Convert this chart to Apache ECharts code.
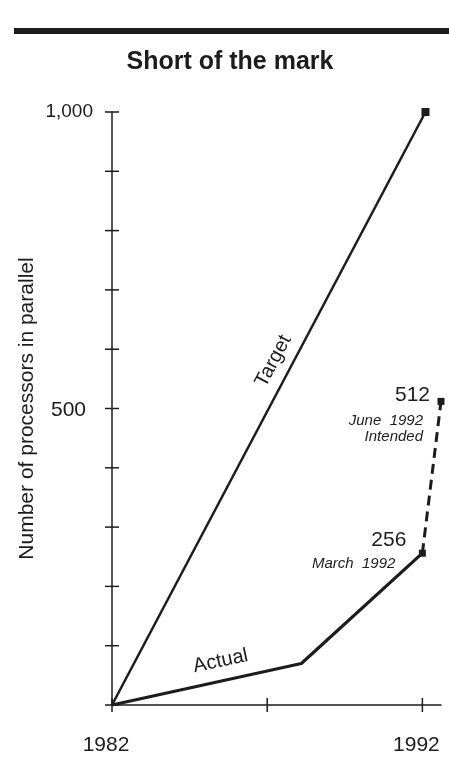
<!DOCTYPE html>
<html><head><meta charset="utf-8">
<script src="https://cdn.jsdelivr.net/npm/echarts@6/dist/echarts.min.js"></script>
<style>html,body{margin:0;padding:0;background:#fff}#c{width:449px;height:757px}</style>
</head><body><div id="c"></div>
<script>
// ---- data ----
const chartTitle = 'Short of the mark';
const yAxisName = 'Number of processors in parallel';
const xTickValues = [1982, 1987, 1992];
const xLabelValues = [1982, 1992];
const yTickValues = [0, 100, 200, 300, 400, 500, 600, 700, 800, 900, 1000];
const yLabelValues = [500, 1000];
const targetYears = [1982, 1992.1];
const targetValues = [0, 1000];
const actualYears = [1982, 1988.1, 1992];
const actualValues = [0, 70, 256];
const intendedYears = [1992, 1992.6];
const intendedValues = [256, 512];
const seriesNames = ['Target', 'Actual', 'Intended'];
const pointNotes = {
  actualEnd: ['256', 'March  1992'],
  intendedEnd: ['512', 'June  1992', 'Intended']
};

const INK = '#1c1c1c';
const FONT = '"Liberation Sans", Arial, Helvetica, sans-serif';
const X_MIN = 1982, X_MAX = 1992.6, Y_MIN = 0, Y_MAX = 1000;
const TICK = 7;

function pts(xs, ys, markLast, size) {
  return xs.map((x, i) => ({
    value: [x, ys[i]],
    symbol: (markLast && i === xs.length - 1) ? 'rect' : 'none',
    symbolSize: size
  }));
}

const chart = echarts.init(document.getElementById('c'), null, { renderer: 'canvas' });

// crossing tick marks drawn through the axes' own scales
function tickSeries(values, dim) {
  return {
    type: 'custom', silent: true, clip: false, z: 4,
    data: values.map(v => [v]),
    renderItem: function (params, api) {
      const v = api.value(0);
      const p = dim === 'x' ? api.coord([v, Y_MIN]) : api.coord([X_MIN, v]);
      const shape = dim === 'x'
        ? { x1: p[0], y1: p[1] - TICK, x2: p[0], y2: p[1] + TICK }
        : { x1: p[0] - TICK, y1: p[1], x2: p[0] + TICK, y2: p[1] };
      return { type: 'line', shape: shape, style: { stroke: INK, lineWidth: 1.5 } };
    }
  };
}

chart.setOption({
  animation: false,
  backgroundColor: '#ffffff',
  grid: { left: 112, right: 8, top: 112, bottom: 52, containLabel: false, outerBoundsMode: 'none' },
  xAxis: {
    type: 'value', min: X_MIN, max: X_MAX, splitLine: { show: false },
    axisLine: { show: true, onZero: false, lineStyle: { color: INK, width: 1.5 } },
    axisTick: { show: false },
    axisLabel: { show: true, customValues: xLabelValues, formatter: v => String(v), color: INK, fontFamily: FONT, fontSize: 21, margin: 30, padding: [0, 12, 0, 0] }
  },
  yAxis: {
    type: 'value', min: Y_MIN, max: Y_MAX, interval: 100, splitLine: { show: false },
    name: yAxisName, nameLocation: 'middle', nameRotate: 90, nameGap: 74, nameMoveOverlap: false,
    nameTextStyle: { color: INK, fontFamily: FONT, fontSize: 21 },
    axisLine: { show: true, onZero: false, lineStyle: { color: INK, width: 1.5 } },
    axisTick: { show: false },
    axisLabel: {
      show: true, customValues: yLabelValues,
      formatter: v => v >= 1000 ? '{k|' + v.toLocaleString('en-US') + '}' : '{m|' + v.toLocaleString('en-US') + '}',
      color: INK, fontFamily: FONT, fontSize: 19, margin: 19,
      rich: {
        k: { fontFamily: FONT, fontSize: 19, color: INK },
        m: { fontFamily: FONT, fontSize: 21, color: INK, padding: [4, 7, 0, 0] }
      }
    }
  },
  series: [
    tickSeries(xTickValues, 'x'),
    tickSeries(yTickValues, 'y'),
    { name: seriesNames[0], type: 'line',
      data: pts(targetYears, targetValues, true, 8),
      lineStyle: { color: INK, width: 2.5 }, itemStyle: { color: INK }, z: 3 },
    { name: seriesNames[1], type: 'line',
      data: pts(actualYears, actualValues, true, 7),
      lineStyle: { color: INK, width: 3.2 }, itemStyle: { color: INK }, z: 3 },
    { name: seriesNames[2], type: 'line',
      data: pts(intendedYears, intendedValues, true, 7),
      lineStyle: { color: INK, width: 3, type: [10, 6] }, itemStyle: { color: INK }, z: 3 }
  ]
});

function px(x, y) { return chart.convertToPixel({ xAxisIndex: 0, yAxisIndex: 0 }, [x, y]); }

const aEnd = px(actualYears[actualYears.length - 1], actualValues[actualValues.length - 1]);
const iEnd = px(intendedYears[intendedYears.length - 1], intendedValues[intendedValues.length - 1]);
const tMid = px(1987.2, 580);
const aMid = px(1985.5, 74);

function txt(x, y, text, opts) {
  return {
    type: 'text', x: x, y: y, rotation: opts.rot || 0, z: 10,
    style: {
      text: text, fill: INK, font: (opts.style || 'normal') + ' ' + (opts.weight || 'normal') + ' ' + opts.size + 'px ' + FONT,
      textAlign: opts.align || 'center', textVerticalAlign: 'middle'
    }
  };
}

chart.setOption({
  graphic: [
    { type: 'rect', shape: { x: 14, y: 28, width: 435, height: 6 }, style: { fill: INK } },
    txt(230, 62, chartTitle, { size: 25, weight: 'bold' }),
    txt(tMid[0], tMid[1], seriesNames[0], { size: 20, rot: 62 * Math.PI / 180 }),
    txt(aMid[0], aMid[1], seriesNames[1], { size: 20, rot: 12 * Math.PI / 180 }),
    txt(iEnd[0] - 11, iEnd[1] - 6, pointNotes.intendedEnd[0], { size: 21, align: 'right' }),
    txt(iEnd[0] - 18, iEnd[1] + 19, pointNotes.intendedEnd[1], { size: 15, align: 'right', style: 'italic' }),
    txt(iEnd[0] - 18, iEnd[1] + 35, pointNotes.intendedEnd[2], { size: 15, align: 'right', style: 'italic' }),
    txt(aEnd[0] - 16, aEnd[1] - 13, pointNotes.actualEnd[0], { size: 21, align: 'right' }),
    txt(aEnd[0] - 27, aEnd[1] + 11, pointNotes.actualEnd[1], { size: 15, align: 'right', style: 'italic' })
  ]
});
</script>
</body></html>
